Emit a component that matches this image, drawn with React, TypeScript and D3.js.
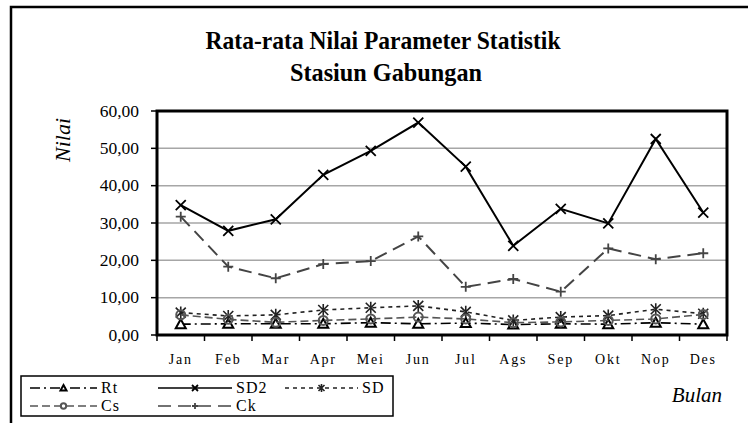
import React from 'react';
import * as d3 from 'd3';

const months = ['Jan', 'Feb', 'Mar', 'Apr', 'Mei', 'Jun', 'Jul', 'Ags', 'Sep', 'Okt', 'Nop', 'Des'];
const yTicks = [0, 10, 20, 30, 40, 50, 60];

const rt = [2.9, 3.0, 3.0, 3.0, 3.3, 3.0, 3.2, 2.8, 3.0, 2.9, 3.3, 2.9];
const sd2 = [34.8, 27.9, 31.0, 42.9, 49.3, 56.9, 45.1, 23.9, 33.8, 29.9, 52.5, 32.8];
const sd = [6.0, 5.1, 5.4, 6.7, 7.3, 7.8, 6.2, 3.9, 4.8, 5.2, 6.9, 5.7];
const cs = [5.4, 4.2, 3.4, 3.9, 4.3, 4.8, 4.3, 3.3, 3.5, 3.9, 4.3, 5.5];
const ck = [31.7, 18.3, 15.2, 19.0, 19.8, 26.4, 12.9, 15.0, 11.6, 23.2, 20.3, 21.9];

const W = 748;
const H = 423;
const plot = { left: 157, right: 727, top: 111, bottom: 335 };
const serif = '"Liberation Serif", "Times New Roman", serif';

type Marker = 'tri' | 'x' | 'star' | 'circle' | 'plus';

const series: { name: string; values: number[]; color: string; dash: string; width: number; marker: Marker }[] = [
  { name: 'Rt', values: rt, color: '#000', dash: '10,4,2,4', width: 1.6, marker: 'tri' },
  { name: 'SD2', values: sd2, color: '#000', dash: '', width: 2, marker: 'x' },
  { name: 'SD', values: sd, color: '#222', dash: '4,4', width: 1.6, marker: 'star' },
  { name: 'Cs', values: cs, color: '#555', dash: '8,4', width: 1.6, marker: 'circle' },
  { name: 'Ck', values: ck, color: '#444', dash: '13,7', width: 2, marker: 'plus' },
];

const MarkerShape = ({ type, x, y, color, s = 1 }: { type: Marker; x: number; y: number; color: string; s?: number }) => {
  const r = 5 * s;
  if (type === 'tri')
    return <path d={`M${x},${y - r} L${x + r},${y + r * 0.8} L${x - r},${y + r * 0.8} Z`} fill="#fff" stroke={color} strokeWidth={2} />;
  if (type === 'x')
    return <path d={`M${x - r},${y - r} L${x + r},${y + r} M${x - r},${y + r} L${x + r},${y - r}`} stroke={color} strokeWidth={1.8} />;
  if (type === 'star')
    return (
      <path
        d={`M${x - r},${y - r} L${x + r},${y + r} M${x - r},${y + r} L${x + r},${y - r} M${x},${y - r - 1} L${x},${y + r + 1}`}
        stroke={color}
        strokeWidth={1.6}
      />
    );
  if (type === 'circle') return <circle cx={x} cy={y} r={r * 0.9} fill="none" stroke={color} strokeWidth={2} />;
  return <path d={`M${x - r},${y} L${x + r},${y} M${x},${y - r} L${x},${y + r}`} stroke={color} strokeWidth={1.8} />;
};

export default function App() {
  const x = d3.scaleBand<string>().domain(months).range([plot.left, plot.right]);
  const y = d3.scaleLinear().domain([0, 60]).range([plot.bottom, plot.top]);
  const cx = (m: string) => (x(m) ?? 0) + x.bandwidth() / 2;
  const line = d3
    .line<number>()
    .x((_, i) => cx(months[i]))
    .y((d) => y(d));
  const fmt = (v: number) => v.toFixed(2).replace('.', ',');
  const boundaries = d3.range(months.length + 1).map((i) => plot.left + i * x.bandwidth());

  const legendRows = [
    [
      { s: series[0], x0: 30, tx: 101 },
      { s: series[1], x0: 158, tx: 236 },
      { s: series[2], x0: 285, tx: 362 },
    ],
    [
      { s: series[3], x0: 30, tx: 101 },
      { s: series[4], x0: 158, tx: 236 },
    ],
  ];

  return (
    <svg width={W} height={H} style={{ position: 'absolute', left: 0, top: 0, background: '#fff' }} fontFamily={serif}>
      {/* outer chart frame */}
      <rect x={11} y={7} width={800} height={500} fill="none" stroke="#000" strokeWidth={2.5} />

      <text x={383} y={49} textAnchor="middle" fontSize={25} fontWeight="bold" textLength={355} lengthAdjust="spacingAndGlyphs">
        Rata-rata Nilai Parameter Statistik
      </text>
      <text x={386} y={81} textAnchor="middle" fontSize={25} fontWeight="bold" textLength={192} lengthAdjust="spacingAndGlyphs">
        Stasiun Gabungan
      </text>

      {/* gridlines */}
      {yTicks.slice(1, -1).map((t) => (
        <line key={t} x1={plot.left} x2={plot.right} y1={y(t)} y2={y(t)} stroke="#a6a6a6" strokeWidth={1.5} />
      ))}

      {/* y axis ticks + labels */}
      {yTicks.map((t) => (
        <g key={t}>
          <line x1={151} x2={plot.left} y1={y(t)} y2={y(t)} stroke="#000" strokeWidth={1.5} />
          <text x={139} y={y(t) + 5.5} textAnchor="end" fontSize={17.5}>
            {fmt(t)}
          </text>
        </g>
      ))}

      {/* x axis ticks + labels */}
      {boundaries.map((b, i) => (
        <line key={i} x1={b} x2={b} y1={plot.bottom} y2={plot.bottom + 6} stroke="#000" strokeWidth={1.5} />
      ))}
      {months.map((m) => (
        <text key={m} x={cx(m)} y={364} textAnchor="middle" fontSize={14} letterSpacing={1.8}>
          {m}
        </text>
      ))}

      {/* series */}
      {series.map((s) => (
        <g key={s.name}>
          <path d={line(s.values) ?? ''} fill="none" stroke={s.color} strokeWidth={s.width} strokeDasharray={s.dash} />
          {s.values.map((v, i) => (
            <MarkerShape key={i} type={s.marker} x={cx(months[i])} y={y(v)} color={s.color} />
          ))}
        </g>
      ))}

      {/* plot border */}
      <rect
        x={plot.left}
        y={plot.top}
        width={plot.right - plot.left}
        height={plot.bottom - plot.top}
        fill="none"
        stroke="#000"
        strokeWidth={3}
      />

      <text x={63} y={140} transform="rotate(-90, 63, 140)" textAnchor="middle" dy={7} fontSize={22} fontStyle="italic">
        Nilai
      </text>
      <text x={722} y={402} textAnchor="end" fontSize={21} fontStyle="italic">
        Bulan
      </text>

      {/* legend */}
      <rect x={21} y={376} width={372} height={40} fill="#fff" stroke="#000" strokeWidth={1.5} />
      {legendRows.map((row, ri) =>
        row.map(({ s, x0, tx }) => {
          const ly = 388 + ri * 18;
          return (
            <g key={s.name}>
              <line x1={x0} x2={tx - 4} y1={ly} y2={ly} stroke={s.color} strokeWidth={1.6} strokeDasharray={s.dash} />
              <MarkerShape type={s.marker} x={(x0 + tx - 4) / 2} y={ly} color={s.color} s={0.6} />
              <text x={tx} y={ly + 5} fontSize={16} letterSpacing={1}>
                {s.name}
              </text>
            </g>
          );
        })
      )}
    </svg>
  );
}
